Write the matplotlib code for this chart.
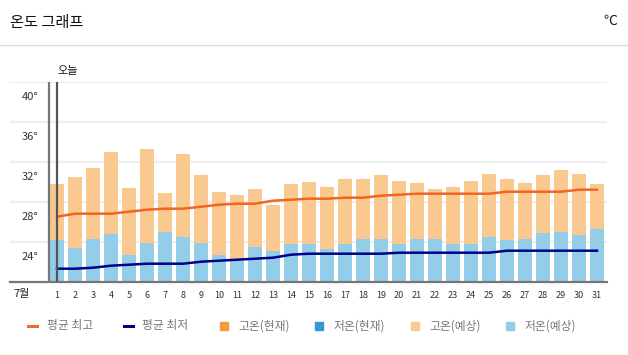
import numpy as np
import matplotlib
matplotlib.use('Agg')
import matplotlib.pyplot as plt
from matplotlib.lines import Line2D

plt.rcParams['font.family'] = ['Noto Sans CJK KR', 'DejaVu Sans']

# data (July, daily)
days = list(range(1, 32))
high_fc = [31.8, 32.5, 33.4, 35.0, 31.4, 35.3, 30.9, 34.8, 32.7, 31.0,
           30.7, 31.3, 29.7, 31.8, 32.0, 31.5, 32.3, 32.3, 32.7, 32.1,
           31.9, 31.3, 31.5, 32.1, 32.8, 32.3, 31.9, 32.7, 33.2, 32.8, 31.8]
low_fc = [26.2, 25.4, 26.3, 26.8, 24.7, 25.9, 27.0, 26.5, 25.9, 24.7,
          24.2, 25.5, 25.1, 25.8, 25.8, 25.3, 25.8, 26.3, 26.3, 25.8,
          26.3, 26.3, 25.8, 25.8, 26.5, 26.2, 26.3, 26.9, 27.0, 26.7, 27.3]
avg_high = [28.5, 28.8, 28.8, 28.8, 29.0, 29.2, 29.3, 29.3, 29.5, 29.7,
            29.8, 29.8, 30.1, 30.2, 30.3, 30.3, 30.4, 30.4, 30.6, 30.7,
            30.8, 30.8, 30.8, 30.8, 30.8, 31.0, 31.0, 31.0, 31.0, 31.2, 31.2]
avg_low = [23.3, 23.3, 23.4, 23.6, 23.7, 23.8, 23.8, 23.8, 24.0, 24.1,
           24.2, 24.3, 24.4, 24.7, 24.8, 24.8, 24.8, 24.8, 24.8, 24.9,
           24.9, 24.9, 24.9, 24.9, 24.9, 25.1, 25.1, 25.1, 25.1, 25.1, 25.1]
y_labels = [24, 28, 32, 36, 40]
grid_vals = [26, 30, 34, 38, 42]
today = 1

legend_items = [('평균 최고', '#e8702a', 'line'), ('평균 최저', '#000080', 'line'),
                ('고온(현재)', '#f59a3e', 'sq'), ('저온(현재)', '#3399d6', 'sq'),
                ('고온(예상)', '#f9c98f', 'sq'), ('저온(예상)', '#94cdea', 'sq')]

W, H = 628, 355
fig = plt.figure(figsize=(W / 100, H / 100), dpi=100)

# header
fig.text(10 / W, 1 - 23 / H, '온도 그래프', fontsize=11, va='center', color='#111')
fig.text(617 / W, 1 - 21 / H, '℃', fontsize=10, va='center', ha='right', color='#222')
fig.add_artist(Line2D([0, 1], [1 - 45 / H, 1 - 45 / H], color='#dddddd', lw=1))

ax = fig.add_axes([10 / W, 1 - 281.7 / H, 597 / W, 200 / H])
ax.set_xlim(1 - 47 / 18, 1 + 550 / 18)
ax.set_ylim(22, 42)

for g in grid_vals:
    ax.axhline(g, color='#eeeeee', lw=1.6, zorder=0)

ax.bar(days, [h - 22 for h in high_fc], bottom=22, width=14 / 18, color='#f9c98f', zorder=1)
ax.bar(days, [l - 22 for l in low_fc], bottom=22, width=14 / 18, color='#94cdea', zorder=2)
ax.plot(days, avg_high, color='#f26522', lw=1.8, zorder=3)
ax.plot(days, avg_low, color='#00008b', lw=1.8, zorder=3)

ax.axvline(1 - 8 / 18, color='#777777', lw=1.6, zorder=4)
ax.axvline(today, color='#555555', lw=1.6, zorder=4)
ax.text(today, 43.1, '오늘', fontsize=8, ha='left', va='center', color='#111')

for v in y_labels:
    ax.text(-0.06, v + 0.45, f'{v}°', fontsize=8, ha='right', va='center',
            color='#333', style='italic')

for s in ['top', 'left', 'right']:
    ax.spines[s].set_visible(False)
ax.spines['bottom'].set_color('#777777')
ax.spines['bottom'].set_linewidth(1.6)
ax.set_yticks([])
ax.set_xticks(days)
ax.set_xticklabels([str(d) for d in days], fontsize=6.5, color='#333')
ax.tick_params(axis='x', length=0, pad=7)
fig.text(22 / W, 1 - 294 / H, '7월', fontsize=8, ha='center', va='center', color='#222')

# legend
ly = 1 - 326 / H
for i, (lab, col, kind) in enumerate(legend_items):
    x0 = 28 + i * 95.5
    if kind == 'line':
        fig.add_artist(Line2D([x0 / W, (x0 + 9) / W], [ly, ly], color=col, lw=2.2))
    else:
        fig.add_artist(Line2D([(x0 + 4.5) / W], [ly], marker='s', ms=5.5,
                              color=col, lw=0))
    fig.text((x0 + 19) / W, ly, lab, fontsize=8.5, va='center', color='#777')

fig.savefig('out.png', dpi=100)
